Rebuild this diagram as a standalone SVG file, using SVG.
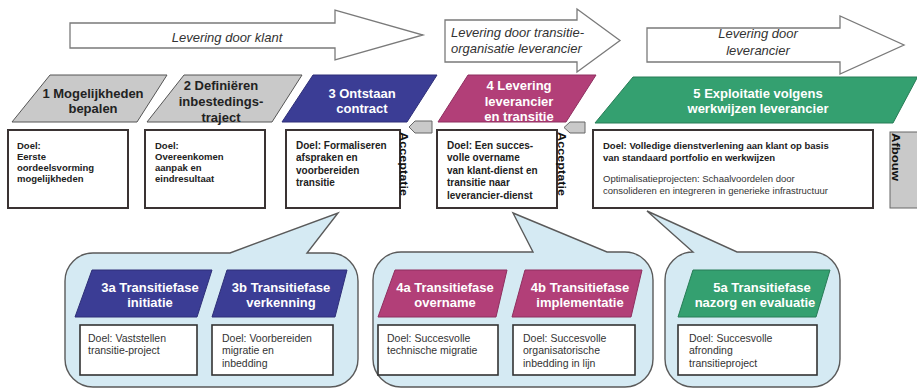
<svg xmlns="http://www.w3.org/2000/svg" width="917" height="389" viewBox="0 0 917 389">
  <style>
    text { font-family: "Liberation Sans", Arial, sans-serif; }
    .flow { fill: #ffffff; stroke: #7a7a7a; stroke-width: 1.3; }
    .flowtxt { font-size: 13px; font-style: italic; fill: #333; }
    .ph { stroke-width: 1; }
    .grey { fill: #c9c9c9; stroke: #555; }
    .blue { fill: #3b3d95; stroke: #2e2f78; }
    .mag { fill: #b23f78; stroke: #8e2f5f; }
    .green { fill: #34a070; stroke: #277c56; }
    .phtxt { font-size: 13px; font-weight: bold; text-anchor: middle; }
    .dark { fill: #222; }
    .light { fill: #ffffff; }
    .goal { fill: #ffffff; stroke: #3a3333; stroke-width: 2; }
    .goaltxt { font-size: 10px; font-weight: bold; fill: #222; }
    .goaltxt2 { font-size: 9.5px; font-weight: bold; fill: #222; }
    .note { font-size: 9.5px; fill: #333; }
    .bubble { fill: #d5eaf3; stroke: #5a5a5a; stroke-width: 1.4; }
    .subgoal { fill: #ffffff; stroke: #333; stroke-width: 1.6; }
    .subtxt { font-size: 10.5px; fill: #333; }
    .tab { fill: #c9c9c9; stroke: #666; stroke-width: 1; }
    .vert { font-size: 10.5px; font-weight: bold; fill: #111; }
  </style>

  <!-- delivery flow arrows -->
  <g id="flow-klant">
    <polygon class="flow" points="70,23 335,23 335,10 423,35 335,60 335,48 70,48"/>
    <text class="flowtxt" x="227" y="41.5" text-anchor="middle">Levering door klant</text>
  </g>
  <g id="flow-transitie">
    <polygon class="flow" points="445,20 577,20 577,9 620,40.5 577,72 577,62 445,62"/>
    <text class="flowtxt" x="451" y="37" font-size="12.5">Levering door transitie-</text>
    <text class="flowtxt" x="451" y="53" font-size="12.5">organisatie leverancier</text>
  </g>
  <g id="flow-leverancier">
    <polygon class="flow" points="647,28 840,28 840,16 904,45 840,74 840,62 647,62"/>
    <text class="flowtxt" x="758" y="38" text-anchor="middle" font-size="12.5">Levering door</text>
    <text class="flowtxt" x="758" y="55" text-anchor="middle" font-size="12.5">leverancier</text>
  </g>

  <!-- speech bubbles with sub phases -->
  <g id="bubble-3">
    <path class="bubble" d="M 93,253 L 230,253 L 338,213 L 307,253 L 330,253 A 28 28 0 0 1 358,281 L 358,359 A 28 28 0 0 1 330,387 L 93,387 A 28 28 0 0 1 65,359 L 65,281 A 28 28 0 0 1 93,253 Z"/>
  </g>
  <g id="bubble-4">
    <path class="bubble" d="M 401,252 L 533,252 L 513,213 L 607,252 L 625,252 A 28 28 0 0 1 653,280 L 653,359 A 28 28 0 0 1 625,387 L 401,387 A 28 28 0 0 1 373,359 L 373,280 A 28 28 0 0 1 401,252 Z"/>
  </g>
  <g id="bubble-5">
    <path class="bubble" d="M 665,280 A 28 28 0 0 1 693,252 L 647,211 L 737,252 L 812,252 A 28 28 0 0 1 840,280 L 840,359 A 28 28 0 0 1 812,387 L 693,387 A 28 28 0 0 1 665,359 Z"/>
  </g>

  <!-- main phases -->
  <g id="phase-1">
    <polygon class="ph grey" points="12,122 50,75 167,75 137,122"/>
    <text class="phtxt dark" x="93" y="97.5">1 Mogelijkheden</text>
    <text class="phtxt dark" x="93" y="113">bepalen</text>
    <rect class="goal" x="8" y="130" width="120" height="78"/>
    <text class="goaltxt2" x="17" y="149">Doel:</text>
    <text class="goaltxt2" x="17" y="160">Eerste</text>
    <text class="goaltxt2" x="17" y="171">oordeelsvorming</text>
    <text class="goaltxt2" x="17" y="182">mogelijkheden</text>
  </g>
  <g id="phase-2">
    <polygon class="ph grey" points="147,122 184,75 302,75 272,122"/>
    <text class="phtxt dark" x="221" y="90">2 Definiëren</text>
    <text class="phtxt dark" x="221" y="106">inbestedings-</text>
    <text class="phtxt dark" x="221" y="121.5">traject</text>
    <rect class="goal" x="145" y="130" width="120" height="78"/>
    <text class="goaltxt2" x="155" y="149">Doel:</text>
    <text class="goaltxt2" x="155" y="160">Overeenkomen</text>
    <text class="goaltxt2" x="155" y="171">aanpak en</text>
    <text class="goaltxt2" x="155" y="182">eindresultaat</text>
  </g>
  <g id="phase-3">
    <polygon class="ph blue" points="282,122 313,75 437,75 407,122"/>
    <text class="phtxt light" x="362" y="98">3 Ontstaan</text>
    <text class="phtxt light" x="362" y="113">contract</text>
    <rect class="goal" x="286" y="130" width="114" height="78"/>
    <text class="goaltxt" x="296" y="148.5">Doel: Formaliseren</text>
    <text class="goaltxt" x="296" y="161">afspraken en</text>
    <text class="goaltxt" x="296" y="173.5">voorbereiden</text>
    <text class="goaltxt" x="296" y="186">transitie</text>
    <polygon class="tab" points="409,127 415,121 432,121 432,133 415,133"/>
    <text class="vert" transform="translate(400,132) rotate(90)" textLength="64" lengthAdjust="spacingAndGlyphs">Acceptatie</text>
  </g>
  <g id="phase-4">
    <polygon class="ph mag" points="438,122 468,75 596,75 566,122"/>
    <text class="phtxt light" x="519" y="90">4 Levering</text>
    <text class="phtxt light" x="519" y="106">leverancier</text>
    <text class="phtxt light" x="519" y="121">en transitie</text>
    <rect class="goal" x="437" y="130" width="120" height="78"/>
    <text class="goaltxt" x="447" y="148.5">Doel: Een succes-</text>
    <text class="goaltxt" x="447" y="161">volle overname</text>
    <text class="goaltxt" x="447" y="173.5">van klant-dienst en</text>
    <text class="goaltxt" x="447" y="186">transitie naar</text>
    <text class="goaltxt" x="447" y="198.5">leverancier-dienst</text>
    <polygon class="tab" points="564,127.5 570,122 585,122 585,133 570,133"/>
    <text class="vert" transform="translate(558,132) rotate(90)" textLength="64" lengthAdjust="spacingAndGlyphs">Acceptatie</text>
  </g>
  <g id="phase-5">
    <polygon class="ph green" points="595,123 633,77 917,77 917,78 893,123"/>
    <text class="phtxt light" x="758" y="98">5 Exploitatie volgens</text>
    <text class="phtxt light" x="758" y="113">werkwijzen leverancier</text>
    <rect class="goal" x="593" y="130" width="280" height="78"/>
    <text class="goaltxt2" x="603" y="148.5">Doel: Volledige dienstverlening aan klant op basis</text>
    <text class="goaltxt2" x="603" y="160.5">van standaard portfolio en werkwijzen</text>
    <text class="note" x="603" y="181.5">Optimalisatieprojecten: Schaalvoordelen door</text>
    <text class="note" x="603" y="193.5">consolideren en integreren in generieke infrastructuur</text>
  </g>
  <g id="afbouw">
    <rect class="tab" x="890" y="132" width="30" height="76" stroke="none"/>
    <text class="vert" transform="translate(892,133) rotate(90)" textLength="48" lengthAdjust="spacingAndGlyphs">Afbouw</text>
  </g>

  <!-- sub phases -->
  <g id="phase-3a">
    <polygon class="ph blue" points="75,317 92,270 212,270 197,317"/>
    <text class="phtxt light" x="150" y="292">3a Transitiefase</text>
    <text class="phtxt light" x="150" y="307">initiatie</text>
    <rect class="subgoal" x="80" y="325" width="117" height="50"/>
    <text class="subtxt" x="88" y="341.5">Doel: Vaststellen</text>
    <text class="subtxt" x="88" y="354">transitie-project</text>
  </g>
  <g id="phase-3b">
    <polygon class="ph blue" points="212,317 227,270 347,270 335,317"/>
    <text class="phtxt light" x="281" y="292">3b Transitiefase</text>
    <text class="phtxt light" x="281" y="307">verkenning</text>
    <rect class="subgoal" x="212" y="325" width="121" height="50"/>
    <text class="subtxt" x="222" y="341.5">Doel: Voorbereiden</text>
    <text class="subtxt" x="222" y="354">migratie en</text>
    <text class="subtxt" x="222" y="366.5">inbedding</text>
  </g>
  <g id="phase-4a">
    <polygon class="ph mag" points="378,317 395,270 507,270 496,317"/>
    <text class="phtxt light" x="445" y="292">4a Transitiefase</text>
    <text class="phtxt light" x="445" y="307">overname</text>
    <rect class="subgoal" x="378" y="325" width="120" height="50"/>
    <text class="subtxt" x="387" y="341.5">Doel: Succesvolle</text>
    <text class="subtxt" x="387" y="354">technische migratie</text>
  </g>
  <g id="phase-4b">
    <polygon class="ph mag" points="512,317 525,270 642,270 631,317"/>
    <text class="phtxt light" x="580" y="292">4b Transitiefase</text>
    <text class="phtxt light" x="580" y="307">implementatie</text>
    <rect class="subgoal" x="513" y="325" width="122" height="50"/>
    <text class="subtxt" x="523" y="341.5">Doel: Succesvolle</text>
    <text class="subtxt" x="523" y="354">organisatorische</text>
    <text class="subtxt" x="523" y="366.5">inbedding in lijn</text>
  </g>
  <g id="phase-5a">
    <polygon class="ph green" points="678,317 693,270 830,270 816,317"/>
    <text class="phtxt light" x="762" y="292">5a Transitiefase</text>
    <text class="phtxt light" x="755" y="307">nazorg en evaluatie</text>
    <rect class="subgoal" x="678" y="325" width="139" height="50"/>
    <text class="subtxt" x="689" y="341.5">Doel: Succesvolle</text>
    <text class="subtxt" x="689" y="354">afronding</text>
    <text class="subtxt" x="689" y="366.5">transitieproject</text>
  </g>

  <!-- no separate connectors: phases are linked by the bubbles and tabs above -->
  <g id="connectors"/>
</svg>
